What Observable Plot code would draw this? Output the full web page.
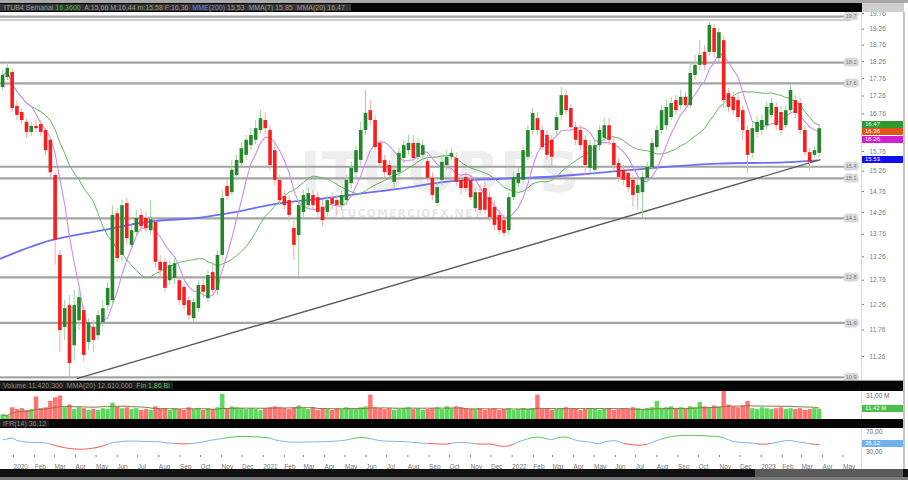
<!DOCTYPE html>
<html><head><meta charset="utf-8">
<script src="https://cdn.jsdelivr.net/npm/d3@7"></script>
<script src="https://cdn.jsdelivr.net/npm/@observablehq/plot@0.6"></script>
<style>
body{margin:0;background:#fff;}
#wrap{position:relative;width:908px;height:480px;overflow:hidden;background:#fff;font-family:"Liberation Sans",Arial,sans-serif;}
.abs{position:absolute;}
.bar{position:absolute;background:#050505;color:#8a8a8a;font-size:7px;line-height:9px;white-space:nowrap;overflow:hidden;}
.tag{position:absolute;left:862px;width:41px;height:7px;font-size:6px;line-height:7px;color:#fff;padding-left:3px;box-sizing:border-box;overflow:hidden;}
.lbl{position:absolute;font-size:6.5px;color:#666;white-space:nowrap;}
</style></head><body><div id="wrap"></div>
<script>
// ---------- data ----------
const startWeek = "2019-12-16";
const open = [17.50,17.79,17.94,16.97,16.80,16.53,16.26,16.42,16.47,16.31,
16.05,15.15,13.29,11.81,12.24,11.46,11.94,12.14,11.52,11.81,
11.65,11.90,12.24,12.34,14.23,13.29,14.47,13.51,13.80,14.19,
14.12,13.84,14.03,13.14,13.14,12.75,12.80,12.75,12.61,12.34,
11.98,12.18,12.65,12.38,12.92,12.55,13.29,14.88,14.73,15.15,
15.45,15.66,15.91,16.05,16.31,16.58,16.31,15.78,15.03,14.64,
14.54,13.89,13.73,14.26,14.42,14.66,14.61,14.38,14.26,14.59,
14.54,14.42,14.54,14.95,15.22,15.53,16.31,16.85,16.58,15.97,
15.53,15.40,14.98,15.22,15.58,15.78,15.97,15.61,15.66,15.50,
15.08,14.47,15.03,15.40,15.61,15.58,15.03,15.10,15.03,14.35,
14.73,14.83,14.61,14.38,14.19,14.07,13.84,14.61,14.95,15.03,
15.61,16.31,16.63,16.31,16.18,16.05,16.31,16.72,17.27,16.91,
16.39,16.31,16.05,15.33,15.28,15.91,16.10,16.44,15.97,15.45,
15.28,15.20,15.03,14.71,14.73,15.08,15.35,15.86,16.31,16.44,
16.66,17.13,16.99,17.22,16.99,17.85,18.15,18.54,18.54,19.28,
18.35,18.90,17.33,17.22,17.13,16.85,16.31,15.71,16.26,16.31,
16.44,16.72,16.94,16.80,16.44,16.85,17.13,17.05,16.31,15.73,
15.66,15.71];
const close = [17.85,18.06,16.91,16.72,16.58,16.26,16.42,16.36,16.26,15.78,
15.22,13.62,11.75,12.18,11.13,12.24,12.40,11.28,11.90,11.56,
12.04,12.18,12.59,14.19,13.22,14.42,13.66,13.84,14.12,13.93,
13.89,14.09,13.14,12.96,12.59,13.07,13.11,12.34,12.24,12.04,
12.30,12.65,12.51,12.86,12.55,13.29,14.59,14.64,15.28,15.53,
15.83,16.05,16.18,16.36,16.63,16.36,15.40,15.03,14.54,14.42,
14.19,13.51,14.42,14.66,14.71,14.42,14.26,14.07,14.54,14.45,
14.42,14.66,15.03,15.33,15.78,16.31,16.77,16.58,15.86,15.45,
15.22,15.15,15.28,15.71,15.91,15.97,15.58,15.97,15.91,15.08,
14.66,14.85,15.48,15.61,15.71,14.98,14.83,14.83,14.61,14.73,
14.31,14.31,14.14,13.96,13.84,13.78,14.61,15.10,15.20,15.78,
16.31,16.77,16.31,15.86,15.66,15.61,16.66,17.27,16.85,16.39,
16.05,15.91,15.40,15.91,15.91,16.31,16.44,16.05,15.40,15.10,
15.03,14.85,14.66,14.90,15.10,15.35,15.97,16.31,16.85,16.94,
17.05,16.85,17.22,16.99,17.91,18.15,18.45,18.15,19.38,18.54,
19.15,17.13,16.94,16.85,16.66,16.31,15.66,16.36,16.53,16.58,
16.94,17.05,16.44,16.31,16.85,17.42,16.77,16.31,15.73,15.48,
15.78,16.36];
const high = [18.00,18.23,18.06,17.13,16.91,16.63,16.53,16.58,16.58,16.36,
16.12,15.22,13.40,12.34,12.44,12.55,12.55,12.24,11.98,11.94,
12.14,12.34,12.71,14.42,14.35,14.54,14.59,13.96,14.31,14.35,
14.26,14.54,14.12,13.29,13.22,13.18,13.22,12.84,12.71,12.42,
12.38,12.75,12.80,12.96,13.14,13.40,14.78,15.03,15.53,15.66,
15.99,16.18,16.36,16.58,16.85,16.80,16.44,15.99,15.15,14.78,
14.66,14.07,14.54,14.78,14.83,14.78,14.73,14.54,14.66,14.73,
14.66,14.78,15.15,15.48,15.91,16.53,17.42,17.13,16.72,16.05,
15.66,15.53,15.40,15.84,16.05,16.18,16.18,16.10,16.05,15.66,
15.22,14.98,15.66,15.78,15.84,15.73,15.15,15.22,15.15,14.83,
14.90,14.98,14.73,14.54,14.31,14.19,14.73,15.22,15.33,15.91,
16.44,16.91,16.80,16.44,16.31,16.18,16.80,17.50,17.42,17.02,
16.53,16.44,16.18,16.05,16.05,16.44,16.63,16.63,16.10,15.58,
15.40,15.33,15.15,15.03,15.22,15.48,16.10,16.44,16.99,17.13,
17.22,17.27,17.42,17.36,18.21,18.45,18.90,18.75,19.47,19.41,
19.28,19.03,17.47,17.36,17.27,16.99,16.44,16.53,16.69,16.74,
17.08,17.19,17.08,16.96,16.99,17.56,17.27,17.19,16.44,15.84,
15.89,16.44];
const low = [17.42,17.70,16.80,16.58,16.47,16.10,16.15,16.26,16.15,15.66,
15.08,13.07,11.33,11.56,10.86,11.19,11.75,11.15,11.37,11.33,
11.56,11.83,12.14,12.24,13.14,13.14,13.51,13.40,13.71,13.80,
13.80,13.75,13.01,12.80,12.51,12.65,12.67,12.24,12.14,11.94,
11.90,12.10,12.38,12.30,12.42,12.44,13.14,14.54,14.66,15.03,
15.33,15.53,15.78,15.94,16.21,16.21,15.28,14.90,14.42,14.31,
14.03,13.18,12.82,14.07,14.31,14.31,14.12,13.93,14.16,14.31,
14.19,14.31,14.42,14.83,15.08,15.40,16.18,16.44,15.78,15.33,
15.08,15.03,14.83,15.13,15.45,15.66,15.50,15.53,15.53,14.98,
14.54,14.40,14.90,15.28,15.53,14.88,14.66,14.73,14.54,14.26,
14.19,14.21,14.03,13.84,13.75,13.69,13.73,14.54,14.85,14.95,
15.53,16.18,16.18,15.78,15.53,15.40,16.18,16.58,16.72,16.26,
15.91,15.78,15.15,15.22,15.15,15.78,15.99,15.91,15.28,14.98,
14.90,14.73,14.38,14.31,14.14,14.98,15.28,15.78,16.21,16.31,
16.58,16.72,16.85,16.91,16.91,17.70,18.00,18.00,18.42,18.35,
18.23,16.91,16.80,16.72,16.53,16.05,15.20,15.58,16.10,16.18,
16.31,16.63,16.31,16.18,16.36,16.74,16.63,16.18,15.63,15.28,
15.58,15.58];
const volume = [5,4,13,11,12,10,11,25,12,13,
20,24,26,13,16,11,13,12,10,11,
10,12,11,18,14,12,13,11,12,10,
11,10,14,11,12,10,12,11,10,13,
11,12,10,12,11,13,28,12,14,13,
12,11,12,11,10,12,13,14,13,12,
11,13,15,12,11,13,10,12,11,10,
12,11,13,12,11,13,14,27,13,12,
11,12,10,11,12,13,11,12,10,11,
12,13,11,14,12,14,13,12,11,11,
12,10,11,12,10,11,12,10,11,12,
11,12,27,11,12,10,11,12,13,11,
12,10,11,12,11,10,11,12,10,11,
12,11,13,12,11,12,13,20,12,13,
14,12,13,12,14,13,19,14,13,15,
14,31,16,14,13,15,20,12,11,13,
12,11,12,13,11,12,11,12,10,11,
12,11];
const osc = [58,62,66,55,50,47,46,46,45,44,
38,32,26,22,18,16,15,15,17,20,
24,30,38,44,48,50,52,52,52,51,
50,50,49,48,45,43,41,40,39,40,
42,44,48,53,57,60,64,67,70,72,
73,73,72,71,70,68,65,58,53,50,
48,47,47,47,48,48,49,49,50,51,
52,54,57,62,66,68,67,63,58,54,
52,51,51,50,50,48,46,44,42,41,
40,39,38,38,42,45,46,45,43,40,
38,38,39,35,30,28,30,38,48,56,
62,68,70,68,62,58,65,70,70,64,
56,52,50,47,42,40,48,52,54,50,
42,38,35,33,34,38,46,54,61,68,
72,75,77,78,78,78,77,76,75,74,
72,66,58,50,47,45,44,43,40,38,
38,41,46,50,54,55,50,47,44,40,
37,36];
// long moving average (blue)
const blueDates = ["2019-12-13","2020-02-24","2020-05-07","2020-07-19","2020-10-01","2020-11-18","2021-01-22","2021-03-30","2021-06-03","2021-07-21","2021-09-28","2021-12-15","2022-02-26","2022-05-10","2022-08-02","2022-10-29","2023-02-03","2023-03-24"];
const blueValues = [13.22,13.62,13.84,14.05,14.14,14.26,14.47,14.59,14.73,14.83,15.00,15.07,15.12,15.22,15.35,15.45,15.48,15.53];
// horizontal levels and trend line
const levelPrices = [19.66,18.23,17.62,15.37,15.08,14.12,12.82,11.90,10.88];
const trendDates = ["2020-04-03","2023-03-29"];
const trendPrices = [10.86,15.55];
// axis ticks
const yTicks = [19.76,19.26,18.76,18.26,17.76,17.26,16.76,16.26,15.76,15.26,14.76,14.26,13.76,13.26,12.76,12.26,11.76,11.26];
const monthLabels = ["Jan","Feb","Mar","Apr","May","Jun","Jul","Aug","Sep","Oct","Nov","Dec"];

// ---------- build ----------
const wrap = document.getElementById("wrap");
const start = new Date(startWeek + "T00:00:00Z");
const rows = open.map((o, i) => ({
  date: d3.utcDay.offset(start, 7 * i), open: o, high: high[i], low: low[i],
  close: close[i], volume: volume[i], osc: osc[i]
}));
const up = d => d.close >= d.open;
const xDomain = [new Date("2019-12-12T22:00:00Z"), new Date("2023-05-11T22:00:00Z")];
const yDomain = [10.861, 19.728];
const blue = blueDates.map((d, i) => ({date: new Date(d + "T00:00:00Z"), v: blueValues[i]}));
const trend = [{x1: new Date(trendDates[0] + "T00:00:00Z"), y1: trendPrices[0], x2: new Date(trendDates[1] + "T00:00:00Z"), y2: trendPrices[1]}];
const baseStyle = {background: "transparent", fontFamily: "Liberation Sans, Arial, sans-serif", fontSize: "7px", color: "#6a6a6a", overflow: "visible"};

function add(el, css) { Object.assign(el.style, css); wrap.appendChild(el); return el; }
function div(cls, css, text) { const e = document.createElement("div"); e.className = cls; if (text) e.textContent = text; return add(e, css); }

// value tags on the right axis (positions from the same log scale as the chart)
const yScale = Plot.scale({y: {type: "log", domain: yDomain, range: [378, 14]}});
const lastClose = close[close.length - 1];
const ma20 = d3.mean(close.slice(-20));
const ma7 = d3.mean(close.slice(-7));
const tags = [
  {v: ma20, bg: "#2f9a2f"},
  {v: lastClose, bg: "#e2561a"},
  {v: ma7, bg: "#d21fd2"},
  {v: blueValues[blueValues.length - 1], bg: "#1010ee"}
].map(t => ({...t, y: yScale.apply(t.v) - 3.5})).sort((a, b) => a.y - b.y);
let lastY = -Infinity;
for (const t of tags) { t.top = Math.max(t.y, lastY + 7.5); lastY = t.top; }
// tick labels hidden behind the tags (as in the reference)
const covered = v => { const y = yScale.apply(v); return tags.some(t => y > t.top - 3.5 && y < t.top + 10.5); };

// watermark (behind the chart)
div("abs", {left: "300px", top: "142px", fontSize: "56px", lineHeight: "60px", fontWeight: "bold", color: "#eeeeee", letterSpacing: "1px", fontFamily: "DejaVu Sans, sans-serif"}, "ITUOBES");
div("abs", {left: "334px", top: "208px", fontSize: "11px", lineHeight: "12px", fontWeight: "bold", color: "#e8e8e8", letterSpacing: "1px", fontFamily: "DejaVu Sans, sans-serif"}, "ITUCOMERCIOFX.NET");

const main = Plot.plot({
  width: 908, height: 380,
  marginTop: 14, marginBottom: 2, marginLeft: 0, marginRight: 58,
  style: baseStyle,
  x: {domain: xDomain, axis: null},
  y: {type: "log", domain: yDomain, axis: null},
  color: {type: "identity"},
  marks: [
    Plot.ruleY(levelPrices, {stroke: "#a4a4a4", strokeWidth: 2.2}),
    Plot.text(levelPrices, {y: d => d, frameAnchor: "right", dx: 6, text: d => d.toFixed(1), fontSize: 5.5, fill: "#777", stroke: "#dadada", strokeWidth: 5}),
    Plot.line(blue, {x: "date", y: "v", stroke: "#6f6ff2", strokeWidth: 1.8, curve: "monotone-x"}),
    Plot.lineY(rows, Plot.windowY({k: 20, anchor: "end"}, {x: "date", y: "close", stroke: "#62b862", strokeWidth: 1})),
    Plot.lineY(rows, Plot.windowY({k: 7, anchor: "end"}, {x: "date", y: "close", stroke: "#c98ef0", strokeWidth: 1.1})),
    Plot.link(trend, {x1: "x1", y1: "y1", x2: "x2", y2: "y2", stroke: "#5a5a5a", strokeWidth: 1.4}),
    Plot.ruleX(rows, {x: "date", y1: "low", y2: "high", stroke: d => up(d) ? "#9fd49f" : "#f6a9a9", strokeWidth: 1}),
    Plot.ruleX(rows, {x: "date", y1: "open", y2: "close", stroke: d => up(d) ? "#22882a" : "#fb1d1d", strokeWidth: 3.6}),
    Plot.axisY({ticks: yTicks, anchor: "right", tickFormat: d => covered(d) ? "" : d.toFixed(2), tickSize: 3, dx: 10, color: "#7a7a7a", fontSize: 6.5})
  ]
});
add(main, {position: "absolute", left: "0px", top: "0px"});
for (const t of tags) div("tag", {top: t.top + "px", background: t.bg}, t.v.toFixed(2));

// header bars
div("abs", {left: "0px", top: "0px", width: "908px", height: "3px", background: "#a8a8a8"});
const hb = div("bar", {left: "0px", top: "3px", width: "862px", height: "9px"});
hb.innerHTML = '<span style="background:#333;padding:0 4px;color:#999">ITUB4 Semanal&nbsp;<span style="color:#3fbf3f">16,3600</span>&nbsp; A:15,66 M:16,44 m:15,58 F:16,36 &nbsp;<span style="color:#7f7fd0">MME(200)</span> 15,53 &nbsp;MMA(7) 15,85 &nbsp;MMA(20) 16,47&nbsp;</span>';
div("abs", {left: "862px", top: "3px", width: "42px", height: "9px", background: "#cfcfcf"});
div("abs", {left: "0px", top: "19px", width: "850px", height: "2px", background: "#d0d0d0"});
div("abs", {left: "861px", top: "12px", width: "1px", height: "457px", background: "#e6d6d6"});
div("abs", {left: "903px", top: "12px", width: "2px", height: "457px", background: "#c4c4c4"});

// volume panel
const vb = div("bar", {left: "0px", top: "380px", width: "903px", height: "11px", borderTop: "1px solid #9a9a9a", boxSizing: "border-box"});
vb.innerHTML = '<span style="background:#1e1e1e;padding:0 3px">Volume 11.420.300 &nbsp;MMA(20) 12.610.000&nbsp; <span style="color:#5fc05f">Fin 1,86 Bi</span></span>';
const vol = Plot.plot({
  width: 908, height: 28, marginTop: 0, marginBottom: 0, marginLeft: 0, marginRight: 58,
  style: baseStyle,
  x: {domain: xDomain, axis: null},
  y: {domain: [0, 31], axis: null},
  color: {type: "identity"},
  marks: [
    Plot.ruleX(rows, {x: "date", y1: 0, y2: "volume", stroke: d => up(d) ? "#3ed43e" : "#ff5a5a", strokeWidth: 4.4, strokeOpacity: 0.85}),
    Plot.lineY(rows, Plot.windowY({k: 20, anchor: "end"}, {x: "date", y: "volume", stroke: "#8a7540", strokeWidth: 1}))
  ]
});
add(vol, {position: "absolute", left: "0px", top: "391px"});
div("lbl", {left: "866px", top: "392px"}, "31,00 M");
div("tag", {top: "405px", background: "#49c049"}, "11,42 M");

// oscillator panel
const ob = div("bar", {left: "0px", top: "419px", width: "903px", height: "9px"});
ob.innerHTML = '<span style="background:#1e1e1e;padding:0 3px">IFR(14) 36,12</span>';
const segs = rows.slice(1).map((d, i) => {
  const a = rows[i].osc, b = d.osc, m = (a + b) / 2;
  return {x1: rows[i].date, y1: a, x2: d.date, y2: b, c: m > 62 ? "#4ccf4c" : m < 41 ? "#f25a5a" : "#7fb4f0"};
});
const oscPlot = Plot.plot({
  width: 908, height: 42, marginTop: 2, marginBottom: 18, marginLeft: 0, marginRight: 58,
  style: baseStyle,
  x: {domain: xDomain, axis: null},
  y: {domain: [0, 100], axis: null},
  color: {type: "identity"},
  marks: [
    Plot.link(segs, {x1: "x1", y1: "y1", x2: "x2", y2: "y2", stroke: "c", strokeWidth: 1}),
    Plot.axisX({ticks: "month", tickSize: 2, dy: 3, textAnchor: "start", color: "#777", fontSize: 6.5,
      tickFormat: d => d.getUTCMonth() === 0 ? String(d.getUTCFullYear()) : monthLabels[d.getUTCMonth()]})
  ]
});
add(oscPlot, {position: "absolute", left: "0px", top: "428px"});
div("lbl", {left: "866px", top: "428px"}, "70,00");
div("tag", {top: "440px", background: "#6fb0f0"}, "36,12");
div("lbl", {left: "866px", top: "448px"}, "30,00");

// bottom bars
div("abs", {left: "0px", top: "469px", width: "908px", height: "8px", background: "#111"});
div("abs", {left: "755px", top: "469px", width: "148px", height: "8px", background: "#5a5a5a"});
div("abs", {left: "0px", top: "477px", width: "908px", height: "3px", background: "#7a7a7a"});
</script></body></html>
